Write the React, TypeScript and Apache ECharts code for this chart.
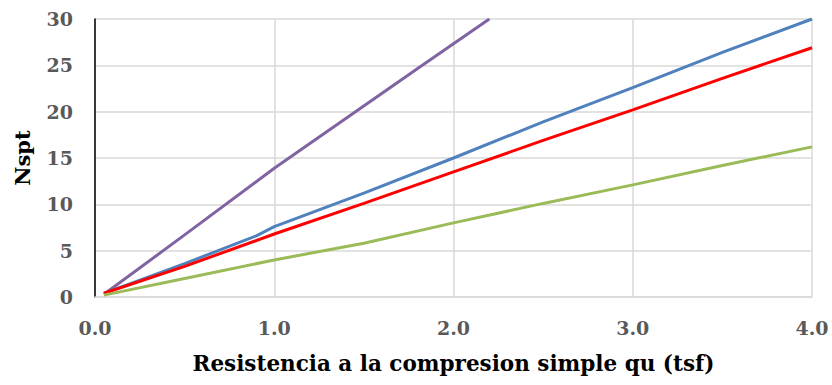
import React, { useEffect, useRef } from "react";
import * as echarts from "echarts";

// Resistencia a la compresión simple qu (tsf) vs Nspt
const purpleQu = [0.05, 0.5, 1.0, 1.81, 2.2];
const purpleN = [0.3, 6.7, 13.9, 24.8, 30.0];

const blueQu = [0.05, 0.5, 0.9, 1.0, 1.5, 2.0, 2.5, 3.0, 3.5, 4.0];
const blueN = [0.4, 3.6, 6.6, 7.6, 11.2, 15.0, 18.9, 22.6, 26.4, 30.0];

const redQu = [0.05, 0.5, 1.0, 1.5, 2.0, 2.5, 3.0, 3.5, 4.0];
const redN = [0.4, 3.3, 6.8, 10.1, 13.5, 16.9, 20.2, 23.6, 26.9];

const greenQu = [0.05, 0.5, 1.0, 1.5, 2.0, 2.5, 3.0, 3.5, 4.0];
const greenN = [0.2, 2.0, 4.0, 5.8, 8.0, 10.1, 12.1, 14.2, 16.2];

const pairs = (xs: number[], ys: number[]) => xs.map((x, i) => [x, ys[i]]);

const FONT = "'DejaVu Serif', serif";

export default function App() {
  const ref = useRef<HTMLDivElement>(null);

  useEffect(() => {
    if (!ref.current) return;
    const chart = echarts.init(ref.current, null, { renderer: "svg" });
    const line = (name: string, data: number[][], color: string) => ({
      name,
      type: "line",
      data,
      symbol: "none",
      smooth: false,
      lineStyle: { color, width: 3 },
      itemStyle: { color },
    });
    chart.setOption({
      animation: false,
      backgroundColor: "#ffffff",
      grid: { left: 95, right: 20, top: 19, bottom: 88, containLabel: false },
      xAxis: {
        type: "value",
        min: 0,
        max: 4,
        interval: 1,
        name: "Resistencia a la compresion simple qu (tsf)",
        nameLocation: "middle",
        nameGap: 55,
        nameTextStyle: { fontFamily: FONT, fontWeight: "bold", fontSize: 21.5, color: "#000" },
        axisLine: { show: true, lineStyle: { color: "#d9d9d9", width: 1.5 } },
        axisTick: { show: false },
        axisLabel: {
          formatter: (v: number) => v.toFixed(1),
          fontFamily: FONT,
          fontWeight: "bold",
          fontSize: 19,
          color: "#595959",
          margin: 21,
        },
        splitLine: { show: true, lineStyle: { color: "#d9d9d9", width: 1.5 } },
      },
      yAxis: {
        type: "value",
        min: 0,
        max: 30,
        interval: 5,
        name: "Nspt",
        nameLocation: "middle",
        nameGap: 62,
        nameTextStyle: { fontFamily: FONT, fontWeight: "bold", fontSize: 21, color: "#000" },
        axisLine: { show: true, lineStyle: { color: "#000", width: 1.5 } },
        axisTick: { show: false },
        axisLabel: {
          fontFamily: FONT,
          fontWeight: "bold",
          fontSize: 19,
          color: "#595959",
          margin: 22,
        },
        splitLine: { show: true, lineStyle: { color: "#d9d9d9", width: 1.5 } },
      },
      series: [
        line("Morado", pairs(purpleQu, purpleN), "#8064a2"),
        line("Azul", pairs(blueQu, blueN), "#4f81bd"),
        line("Rojo", pairs(redQu, redN), "#ff0000"),
        line("Verde", pairs(greenQu, greenN), "#9bbb59"),
      ],
    });
    return () => chart.dispose();
  }, []);

  return (
    <div
      ref={ref}
      style={{ position: "fixed", left: 0, top: 0, width: 832, height: 385, background: "#fff" }}
    />
  );
}
